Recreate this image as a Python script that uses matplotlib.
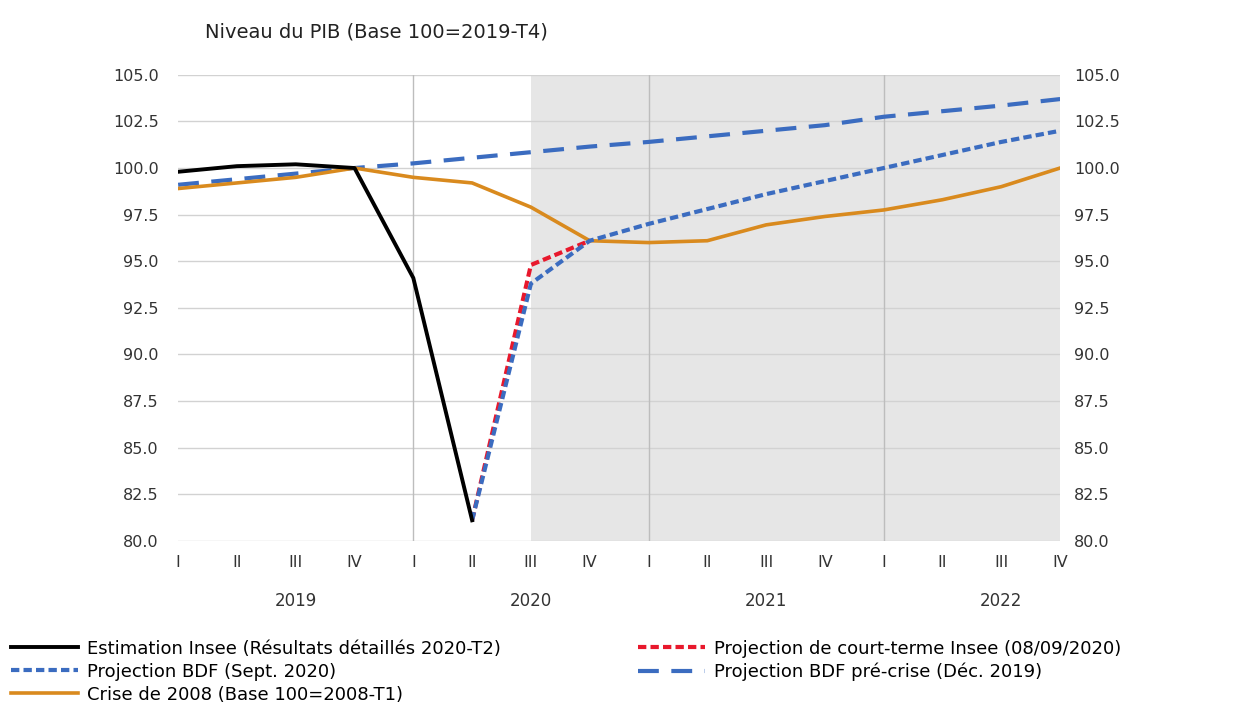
import matplotlib.pyplot as plt
import matplotlib.transforms as mtransforms

quarters = ['I', 'II', 'III', 'IV'] * 4
years = ['2019', '2020', '2021', '2022']
x = list(range(16))

# niveaux (base 100 = 2019-T4)
insee = [99.8, 100.1, 100.2, 100.0, 94.1, 81.1]
insee_ct = [81.1, 94.8, 96.1]
bdf_sept = [81.1, 93.8, 96.1, 97.0, 97.8, 98.6, 99.3, 100.0, 100.7, 101.4, 102.0]
bdf_precrise = [99.1, 99.4, 99.7, 100.0, 100.25, 100.55, 100.85, 101.15,
                101.4, 101.7, 102.0, 102.3, 102.75, 103.05, 103.35, 103.7]
crise2008 = [98.9, 99.2, 99.5, 100.0, 99.5, 99.2, 97.9, 96.1,
             96.0, 96.1, 96.95, 97.4, 97.75, 98.3, 99.0, 100.0]

plt.rcParams['font.family'] = ['DejaVu Sans']
fig = plt.figure(figsize=(12.37, 7.06), dpi=100)
ax = fig.add_axes([0.144, 0.234, 0.713, 0.66])

ax.axvspan(6, 15, color='#e6e6e6', zorder=0, lw=0)
yt = [80 + 2.5 * i for i in range(11)]
for v in yt:
    ax.axhline(v, color='#d2d2d2', lw=1, zorder=1)
for v in [4, 8, 12]:
    ax.axvline(v, color='#bdbdbd', lw=1, zorder=1)

ax.plot(x, bdf_precrise, color='#3b6cc0', lw=3, ls=(0, (5, 3)), zorder=3,
        label='Projection BDF pré-crise (Déc. 2019)')
ax.plot(x, crise2008, color='#d98a1e', lw=2.6, zorder=4,
        label='Crise de 2008 (Base 100=2008-T1)')
ax.plot(x[5:8], insee_ct, color='#e8182c', lw=3, ls=(0, (2, 1)), zorder=5,
        label='Projection de court-terme Insee (08/09/2020)')
ax.plot(x[5:], bdf_sept, color='#3b6cc0', lw=3, ls=(0, (2, 1)), zorder=6,
        label='Projection BDF (Sept. 2020)')
ax.plot(x[:6], insee, color='black', lw=2.8, zorder=7,
        label='Estimation Insee (Résultats détaillés 2020-T2)')

ax.set_xlim(0, 15)
ax.set_ylim(80, 105)
ax.set_yticks(yt)
ax.set_yticklabels(['%.1f' % v for v in yt])
ax.set_xticks(x)
ax.set_xticklabels(quarters)
ax.tick_params(axis='both', length=0, labelsize=11.5, colors='#333333')
ax.tick_params(axis='x', pad=10)
ax.tick_params(axis='y', pad=14)
for s in ax.spines.values():
    s.set_visible(False)

ax2 = ax.twinx()
ax2.set_ylim(80, 105)
ax2.set_yticks(yt)
ax2.set_yticklabels(['%.1f' % v for v in yt])
ax2.tick_params(axis='y', length=0, labelsize=11.5, colors='#333333', pad=10)
for s in ax2.spines.values():
    s.set_visible(False)

trans = mtransforms.blended_transform_factory(ax.transData, ax.transAxes)
for i, yr in enumerate(years):
    ax.text(4 * i + 2, -0.13, yr, transform=trans, ha='center', va='center',
            fontsize=12, color='#333333')

fig.text(0.166, 0.955, 'Niveau du PIB (Base 100=2019-T4)', fontsize=14,
         color='#222222', va='center')

h, l = ax.get_legend_handles_labels()
order = [4, 3, 1, 2, 0]
fig.legend([h[i] for i in order], [l[i] for i in order], ncol=2,
           loc='lower left', bbox_to_anchor=(0.0, -0.012), frameon=False,
           fontsize=13, handlelength=3.7, handletextpad=0.5,
           columnspacing=7.6, labelspacing=0.28, borderaxespad=0.2)

fig.savefig('out.png', dpi=100)
